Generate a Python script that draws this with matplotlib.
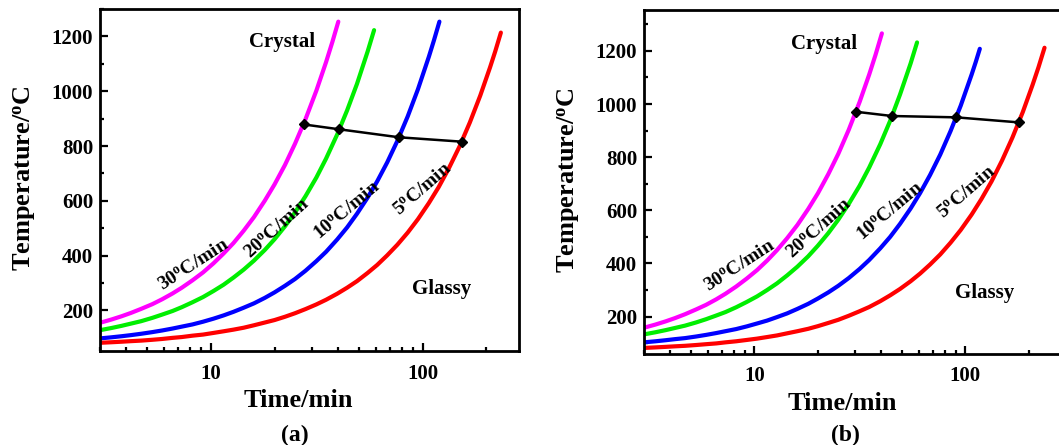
import matplotlib
matplotlib.use("Agg")
import matplotlib.pyplot as plt
from matplotlib.ticker import MultipleLocator, LogLocator, NullFormatter, FixedLocator, FixedFormatter

plt.rcParams['font.family'] = ['Liberation Serif', 'DejaVu Serif']
plt.rcParams['font.weight'] = 'bold'
plt.rcParams['mathtext.fontset'] = 'custom'
plt.rcParams['mathtext.rm'] = 'Liberation Serif:bold'
plt.rcParams['mathtext.bf'] = 'Liberation Serif:bold'
plt.rcParams['mathtext.it'] = 'Liberation Serif:bold'

# ---------------- data ----------------
rates = ['30', '20', '10', '5']
colors = ['#ff00ff', '#00ee00', '#0000ff', '#ff0000']

# panel (a)
a_t_30 = [3, 3.4, 3.8, 4.2, 4.7, 5.3, 5.9, 6.6, 7.3, 8.2, 9.2, 10.3, 11.5, 12.8, 14.3, 16, 18, 20, 22.4, 25, 28, 31.5, 35, 37.5, 40]
a_T_30 = [155, 167, 179, 191, 206, 223, 241, 262, 283, 310, 339, 372, 408, 446, 491, 541, 601, 660, 731, 809, 898, 1002, 1106, 1180, 1254]
a_t_20 = [3, 3.4, 3.8, 4.2, 4.7, 5.3, 5.9, 6.6, 7.3, 8.2, 9.2, 10.3, 11.5, 12.8, 14.3, 16, 18, 20, 22.4, 25, 28, 31.5, 35, 39.5, 44, 49, 55, 59]
a_T_20 = [128, 136, 144, 152, 161, 173, 185, 198, 212, 230, 249, 271, 294, 320, 349, 382, 421, 460, 507, 558, 617, 685, 754, 842, 930, 1027, 1145, 1223]
a_t_10 = [3, 3.4, 3.8, 4.2, 4.7, 5.3, 5.9, 6.6, 7.3, 8.2, 9.2, 10.3, 11.5, 12.8, 14.3, 16, 18, 20, 22.4, 25, 28, 31.5, 35, 39.5, 44, 49, 55, 61, 68, 76, 85, 95, 107, 113, 120]
a_T_10 = [98, 102, 106, 110, 115, 121, 127, 134, 141, 149, 159, 170, 182, 195, 210, 226, 246, 266, 290, 315, 345, 380, 414, 459, 503, 553, 612, 671, 740, 819, 908, 1007, 1126, 1185, 1254]
a_t_5 = [3, 3.4, 3.8, 4.2, 4.7, 5.3, 5.9, 6.6, 7.3, 8.2, 9.2, 10.3, 11.5, 12.8, 14.3, 16, 18, 20, 22.4, 25, 28, 31.5, 35, 39.5, 44, 49, 55, 61, 68, 76, 85, 95, 107, 119, 133, 149, 167, 187, 208, 220, 234]
a_T_5 = [82, 84, 86, 88, 90, 93, 96, 100, 103, 108, 112, 118, 124, 130, 137, 146, 156, 165, 177, 190, 205, 222, 239, 261, 283, 307, 337, 366, 401, 440, 484, 533, 592, 650, 719, 797, 886, 984, 1087, 1145, 1214]
a_mark_t = [27.4, 40.5, 77.3, 152.8]
a_mark_T = [879, 861, 832, 816]

# panel (b)
b_t_30 = [3, 3.4, 3.8, 4.2, 4.7, 5.3, 5.9, 6.6, 7.3, 8.2, 9.2, 10.3, 11.5, 12.8, 14.3, 16, 18, 20, 22.4, 25, 28, 31.5, 35, 37.5, 40.2]
b_T_30 = [158, 170, 182, 194, 209, 227, 244, 265, 286, 313, 343, 375, 411, 450, 495, 545, 605, 664, 736, 813, 903, 1007, 1111, 1185, 1266]
b_t_20 = [3, 3.4, 3.8, 4.2, 4.7, 5.3, 5.9, 6.6, 7.3, 8.2, 9.2, 10.3, 11.5, 12.8, 14.3, 16, 18, 20, 22.4, 25, 28, 31.5, 35, 39.5, 44, 49, 55, 59]
b_T_20 = [133, 141, 149, 157, 166, 178, 190, 204, 217, 235, 255, 276, 300, 325, 355, 388, 427, 467, 514, 565, 624, 692, 761, 849, 937, 1036, 1153, 1232]
b_t_10 = [3, 3.4, 3.8, 4.2, 4.7, 5.3, 5.9, 6.6, 7.3, 8.2, 9.2, 10.3, 11.5, 12.8, 14.3, 16, 18, 20, 22.4, 25, 28, 31.5, 35, 39.5, 44, 49, 55, 61, 68, 76, 85, 95, 107, 112, 117]
b_T_10 = [103, 107, 111, 115, 119, 125, 131, 138, 145, 153, 163, 174, 185, 198, 212, 229, 248, 268, 291, 316, 345, 379, 413, 457, 500, 549, 607, 665, 733, 810, 898, 994, 1111, 1159, 1208]
b_t_5 = [3, 3.4, 3.8, 4.2, 4.7, 5.3, 5.9, 6.6, 7.3, 8.2, 9.2, 10.3, 11.5, 12.8, 14.3, 16, 18, 20, 22.4, 25, 28, 31.5, 35, 39.5, 44, 49, 55, 61, 68, 76, 85, 95, 107, 119, 133, 149, 167, 187, 208, 222, 237]
b_T_5 = [82, 84, 86, 88, 90, 93, 96, 99, 103, 107, 112, 117, 123, 129, 137, 145, 154, 164, 176, 188, 203, 220, 236, 258, 280, 304, 333, 362, 396, 434, 478, 526, 584, 642, 709, 787, 874, 970, 1072, 1139, 1212]
b_mark_t = [30.3, 44.9, 90.4, 178.9]
b_mark_T = [971, 955, 950, 931]

x_ticks = [10, 100]
x_tick_labels = ['10', '100']
y_ticks = [200, 400, 600, 800, 1000, 1200]
y_tick_labels = ['200', '400', '600', '800', '1000', '1200']

panels = {
    'a': dict(curves=[(a_t_30, a_T_30), (a_t_20, a_T_20), (a_t_10, a_T_10), (a_t_5, a_T_5)],
              mark=(a_mark_t, a_mark_T),
              pos=[0.0944, 0.2112, 0.3957, 0.7685], xlim=(3, 285), ylim=(52, 1300),
              lab_xy=[(8.3, 364), (20.5, 499), (43.9, 565), (100, 642)],
              crystal=(21.6, 1178), glassy=(123, 280), tag=(0.2786, 0.0225)),
    'b': dict(curves=[(b_t_30, b_T_30), (b_t_20, b_T_20), (b_t_10, b_T_10), (b_t_5, b_T_5)],
              mark=(b_mark_t, b_mark_T),
              pos=[0.6081, 0.2056, 0.3957, 0.7719], xlim=(3, 290), ylim=(61, 1354),
              lab_xy=[(8.55, 390), (20.3, 530), (43.9, 594), (102, 669)],
              crystal=(21.5, 1226), glassy=(123, 290), tag=(0.798, 0.0225)),
}
rotations = [33, 42, 40, 41]

fig = plt.figure(figsize=(10.59, 4.45), dpi=100)

for key, p in panels.items():
    ax = fig.add_axes(p['pos'])
    for (t, T), c in zip(p['curves'], colors):
        ax.plot(t, T, color=c, lw=3.0, solid_capstyle='round', solid_joinstyle='round', zorder=2)
    mt, mT = p['mark']
    ax.plot(mt, mT, color='black', lw=1.8, marker='D', ms=5.5, zorder=3)

    ax.set_xscale('log')
    ax.set_xlim(*p['xlim'])
    ax.set_ylim(*p['ylim'])
    ax.xaxis.set_major_locator(FixedLocator(x_ticks))
    ax.xaxis.set_major_formatter(FixedFormatter(x_tick_labels))
    ax.xaxis.set_minor_locator(LogLocator(base=10, subs=[2, 3, 4, 5, 6, 7, 8, 9]))
    ax.xaxis.set_minor_formatter(NullFormatter())
    ax.yaxis.set_major_locator(FixedLocator(y_ticks))
    ax.yaxis.set_major_formatter(FixedFormatter(y_tick_labels))
    ax.yaxis.set_minor_locator(MultipleLocator(100))

    ax.tick_params(which='both', direction='in', top=False, right=False, width=1.6)
    ax.tick_params(which='major', length=5.5)
    ax.tick_params(which='minor', length=3)
    ax.tick_params(axis='y', which='major', labelsize=15, pad=5)
    ax.tick_params(axis='x', which='major', labelsize=15, pad=9)
    for sp in ax.spines.values():
        sp.set_linewidth(2.0)

    ax.set_xlabel('Time/min', fontsize=19, fontweight='bold')
    ax.xaxis.label.set_va('center')
    ax.xaxis.set_label_coords(0.474, -0.145)
    ax.set_ylabel(r'Temperature/$^{\mathbf{o}}$C', fontsize=19, fontweight='bold')
    ax.yaxis.label.set_va('center')
    ax.yaxis.set_label_coords(-0.18, 0.505)

    for (lx, ly), r, rot in zip(p['lab_xy'], rates, rotations):
        ax.text(lx, ly, r + r'$^{\mathbf{o}}$C/min', fontsize=14, fontweight='bold',
                rotation=rot, rotation_mode='anchor', ha='center', va='center')
    ax.text(*p['crystal'], 'Crystal', fontsize=15, fontweight='bold', ha='center', va='center')
    ax.text(*p['glassy'], 'Glassy', fontsize=15, fontweight='bold', ha='center', va='center')
    fig.text(*p['tag'], '(' + key + ')', fontsize=17, fontweight='bold', ha='center', va='center')

fig.savefig('out.png', dpi=100)
